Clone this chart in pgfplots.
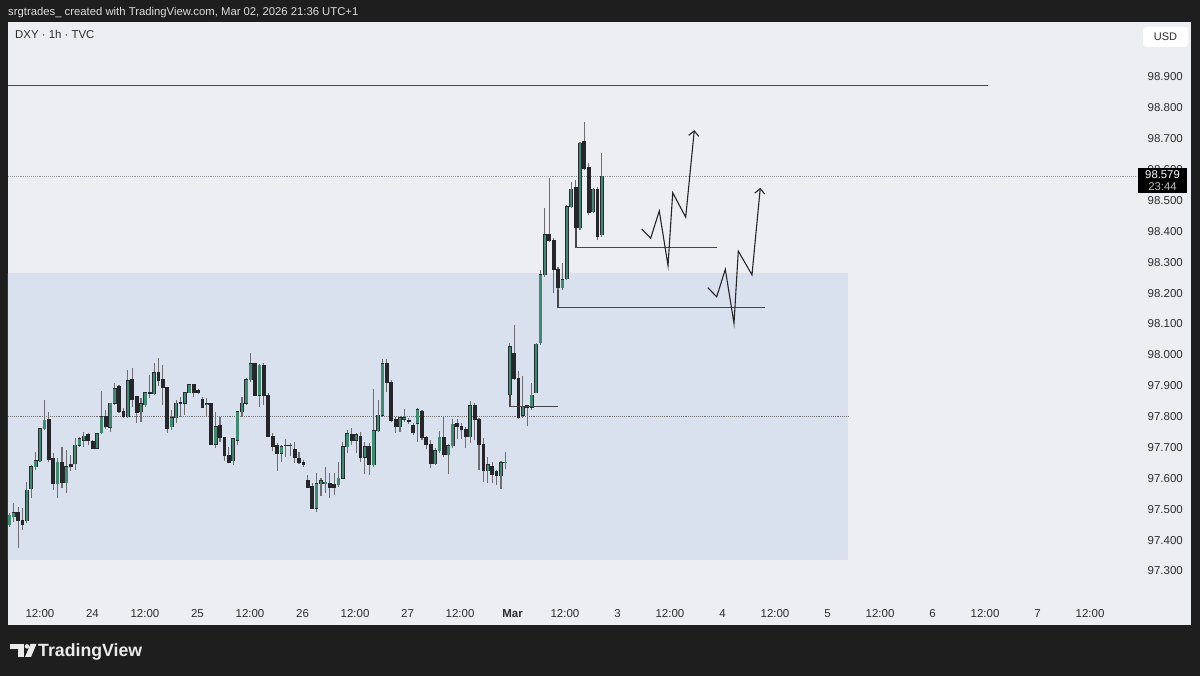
\documentclass[border=0pt]{standalone}
\usepackage{fontspec}
\setmainfont{Liberation Sans}
\usepackage{pgfplots}
\pgfplotsset{compat=1.18}
\usepackage{pgfplotstable}
\usetikzlibrary{arrows.meta}

\definecolor{frame}{RGB}{30,30,30}
\definecolor{panel}{RGB}{237,238,241}
\definecolor{zone}{RGB}{217,224,238}
\definecolor{upc}{RGB}{63,138,112}
\definecolor{downc}{RGB}{38,38,42}
\definecolor{edge}{RGB}{42,44,50}
\definecolor{wick}{RGB}{110,110,114}
\definecolor{lbl}{RGB}{45,45,48}
\definecolor{drw}{RGB}{70,70,72}
\definecolor{hdr}{RGB}{222,222,222}

% bar index, open, high, low, close  (rising bars)
\pgfplotstableread{
i o h l c
0 97.449 97.488 97.442 97.481
1 97.475 97.520 97.459 97.488
4 97.462 97.588 97.455 97.562
5 97.566 97.644 97.536 97.637
6 97.637 97.686 97.627 97.657
7 97.657 97.763 97.653 97.760
8 97.760 97.854 97.757 97.789
11 97.582 97.666 97.536 97.653
13 97.585 97.692 97.553 97.637
15 97.647 97.731 97.627 97.708
16 97.708 97.734 97.702 97.728
17 97.724 97.750 97.702 97.737
20 97.698 97.747 97.698 97.744
21 97.747 97.883 97.744 97.799
23 97.765 97.844 97.750 97.844
24 97.844 97.909 97.838 97.890
27 97.799 97.951 97.796 97.916
30 97.815 97.860 97.783 97.841
31 97.838 97.880 97.831 97.877
33 97.874 97.974 97.870 97.942
37 97.767 97.822 97.757 97.796
38 97.796 97.854 97.779 97.844
40 97.844 97.880 97.805 97.877
41 97.877 97.906 97.877 97.903
45 97.838 97.860 97.799 97.841
47 97.711 97.815 97.698 97.767
51 97.657 97.731 97.644 97.728
52 97.724 97.818 97.708 97.815
53 97.815 97.864 97.799 97.844
54 97.844 97.925 97.838 97.919
55 97.919 98.006 97.912 97.971
57 97.870 97.971 97.831 97.967
62 97.682 97.708 97.653 97.702
70 97.504 97.618 97.491 97.582
71 97.582 97.601 97.543 97.592
72 97.582 97.637 97.553 97.588
75 97.579 97.653 97.572 97.601
76 97.601 97.718 97.598 97.702
77 97.702 97.757 97.682 97.744
79 97.724 97.747 97.682 97.741
81 97.669 97.718 97.614 97.702
83 97.644 97.890 97.637 97.754
84 97.754 97.854 97.750 97.805
85 97.805 97.987 97.799 97.971
89 97.767 97.799 97.750 97.796
90 97.792 97.825 97.783 97.796
93 97.779 97.828 97.718 97.822
97 97.647 97.698 97.644 97.689
98 97.689 97.754 97.682 97.734
100 97.676 97.711 97.614 97.705
101 97.705 97.792 97.698 97.776
105 97.734 97.851 97.715 97.835
109 97.624 97.669 97.585 97.644
112 97.608 97.657 97.566 97.650
113 97.650 97.686 97.630 97.653
114 97.873 98.039 97.864 98.026
117 97.805 97.932 97.796 97.831
119 97.831 97.909 97.822 97.870
120 97.877 98.039 97.877 98.035
121 98.039 98.275 98.032 98.259
122 98.259 98.476 98.253 98.389
126 98.217 98.298 98.210 98.243
127 98.246 98.486 98.243 98.479
128 98.479 98.560 98.476 98.537
130 98.411 98.690 98.405 98.686
133 98.463 98.541 98.460 98.537
135 98.389 98.654 98.382 98.579
}\upbars

% falling bars
\pgfplotstableread{
i o h l c
2 97.488 97.507 97.374 97.465
3 97.462 97.504 97.433 97.452
9 97.792 97.815 97.653 97.660
10 97.663 97.682 97.562 97.582
12 97.653 97.702 97.569 97.585
14 97.644 97.676 97.624 97.637
18 97.741 97.747 97.708 97.724
19 97.721 97.724 97.695 97.698
22 97.799 97.822 97.760 97.767
25 97.896 97.903 97.812 97.815
26 97.815 97.828 97.796 97.799
28 97.919 97.958 97.831 97.857
29 97.864 97.864 97.779 97.812
32 97.877 97.935 97.860 97.874
34 97.942 97.990 97.899 97.916
35 97.919 97.967 97.838 97.893
36 97.893 97.896 97.747 97.763
39 97.847 97.864 97.799 97.844
42 97.903 97.906 97.864 97.877
43 97.883 97.890 97.873 97.877
44 97.857 97.864 97.828 97.831
46 97.841 97.844 97.708 97.711
48 97.770 97.799 97.718 97.731
49 97.731 97.734 97.657 97.673
50 97.673 97.702 97.650 97.653
56 97.971 97.974 97.867 97.870
58 97.967 97.974 97.838 97.870
59 97.870 97.877 97.734 97.737
60 97.737 97.747 97.689 97.702
61 97.708 97.715 97.624 97.682
63 97.708 97.728 97.669 97.705
64 97.706 97.715 97.673 97.705
65 97.695 97.718 97.650 97.666
66 97.663 97.686 97.647 97.653
67 97.653 97.660 97.637 97.644
68 97.592 97.611 97.572 97.572
69 97.575 97.585 97.501 97.504
73 97.585 97.618 97.536 97.572
74 97.579 97.618 97.546 97.569
78 97.741 97.763 97.708 97.724
80 97.737 97.750 97.653 97.666
82 97.702 97.715 97.611 97.644
86 97.971 97.987 97.880 97.912
87 97.912 97.919 97.783 97.789
88 97.792 97.799 97.747 97.767
91 97.789 97.796 97.776 97.783
92 97.770 97.779 97.741 97.750
94 97.818 97.822 97.724 97.731
95 97.734 97.737 97.695 97.711
96 97.711 97.724 97.634 97.647
99 97.734 97.799 97.669 97.676
102 97.779 97.792 97.728 97.767
103 97.767 97.779 97.728 97.757
104 97.757 97.767 97.698 97.734
106 97.835 97.844 97.724 97.792
107 97.792 97.796 97.627 97.711
108 97.711 97.731 97.588 97.624
110 97.640 97.653 97.585 97.614
111 97.621 97.627 97.579 97.608
115 98.006 98.097 97.919 97.925
116 97.925 97.948 97.792 97.796
118 97.835 97.835 97.770 97.828
123 98.389 98.573 98.366 98.372
124 98.372 98.379 98.200 98.278
125 98.278 98.285 98.210 98.217
129 98.541 98.567 98.405 98.411
131 98.690 98.754 98.599 98.602
132 98.606 98.622 98.453 98.460
134 98.537 98.544 98.372 98.382
}\downbars

\pgfplotsset{
  wickplot/.style={forget plot, draw=none, mark=none,
    error bars/.cd, y dir=plus, y explicit, error mark=none,
    error bar style={draw=wick, line width=1.1pt}},
  bodyplot/.style 2 args={forget plot, draw=none, mark=none,
    error bars/.cd, y dir=plus, y explicit, error mark=none,
    error bar style={draw=#1, line width=#2, line cap=butt}},
}

\begin{document}
\begin{tikzpicture}
\useasboundingbox (0,0) rectangle (1200pt,676pt);
\fill[frame] (0,0) rectangle (1200pt,676pt);
\fill[panel] (8pt,51pt) rectangle (1191pt,654pt);

\begin{axis}[
  at={(8pt,76pt)}, anchor=south west,
  width=1129pt, height=578pt, scale only axis,
  xmin=-0.296, xmax=256.88, ymin=97.2061, ymax=99.0781,
  axis line style={draw=none}, tick style={draw=none},
  major tick length=0pt,
  xtick={6.99,18.95,30.91,42.87,54.83,66.79,78.75,90.71,102.67,114.63,126.58,138.54,150.50,162.46,174.42,186.38,198.34,210.30,222.26,234.22,246.18},
  xticklabels={12:00,24,12:00,25,12:00,26,12:00,27,12:00,\textbf{Mar},12:00,3,12:00,4,12:00,5,12:00,6,12:00,7,12:00},
  ytick={97.3,97.4,97.5,97.6,97.7,97.8,97.9,98.0,98.1,98.2,98.3,98.4,98.5,98.6,98.7,98.8,98.9},
  yticklabels={97.300,97.400,97.500,97.600,97.700,97.800,97.900,98.000,98.100,98.200,98.300,98.400,98.500,98.600,98.700,98.800,98.900},
  yticklabel pos=right,
  /pgf/number format/assume math mode=true,
  ticklabel style={font=\fontsize{11.5}{13}\selectfont, text=lbl, inner sep=0pt},
  yticklabel style={anchor=east, xshift=46pt},
  xticklabel style={anchor=base, yshift=-18pt},
]
% demand zone
\addplot[fill=zone, draw=none, forget plot] coordinates {(-2,97.336) (191.05,97.336) (191.05,98.265) (-2,98.265)} -- cycle;
% zone midline
\addplot[densely dotted, color=black!55, line width=0.9pt, forget plot] coordinates {(-2,97.802) (191.05,97.802)};
% last price line
\addplot[densely dotted, color=black!40, line width=0.9pt, forget plot] coordinates {(-2,98.579) (260,98.579)};
% top horizontal level
\addplot[color=drw, line width=1.1pt, forget plot] coordinates {(-2,98.871) (222.94,98.871)};

% candles
\addplot[wickplot] table[x=i, y=l, y error expr=\thisrow{h}-\thisrow{l}] {\upbars};
\addplot[wickplot] table[x=i, y=l, y error expr=\thisrow{h}-\thisrow{l}] {\downbars};
\addplot[bodyplot={edge}{3.8pt}] table[x=i, y expr={min(\thisrow{o},\thisrow{c})-0.0016}, y error expr={abs(\thisrow{c}-\thisrow{o})+0.0032}] {\upbars};
\addplot[bodyplot={upc}{2.5pt}] table[x=i, y expr={min(\thisrow{o},\thisrow{c})}, y error expr={max(abs(\thisrow{c}-\thisrow{o}),0.001)}] {\upbars};
\addplot[bodyplot={downc}{3.8pt}] table[x=i, y expr={min(\thisrow{o},\thisrow{c})-0.0016}, y error expr={abs(\thisrow{c}-\thisrow{o})+0.0032}] {\downbars};

% drawn levels
\addplot[color=drw, line width=1.3pt, forget plot] coordinates {(114.05,97.873) (114.05,97.833) (125.0,97.833)};
\addplot[color=drw, line width=1.3pt, forget plot] coordinates {(125.0,98.210) (125.0,98.153) (172.14,98.153)};
\addplot[color=drw, line width=1.3pt, forget plot] coordinates {(129.09,98.411) (129.09,98.348) (161.14,98.348)};
% projected paths
\addplot[color=black!85, line width=1.1pt, forget plot, -{Straight Barb[length=5pt,width=10pt]}] coordinates {(144.05,98.408) (146.10,98.378) (148.06,98.466) (150.05,98.289) (151.12,98.525) (154.08,98.446) (156.04,98.728)};
\addplot[color=black!85, line width=1.1pt, forget plot, -{Straight Barb[length=5pt,width=10pt]}] coordinates {(159.09,98.218) (161.14,98.188) (163.10,98.277) (165.08,98.102) (166.06,98.336) (169.18,98.259) (171.07,98.541)};
\end{axis}

% header
\node[anchor=base west, inner sep=0pt, text=hdr, font=\fontsize{11.3}{13}\selectfont] at (8pt,660pt) {srgtrades\_ created with TradingView.com, Mar 02, 2026 21:36 UTC+1};
\node[anchor=base west, inner sep=0pt, text=lbl, font=\fontsize{11.4}{13}\selectfont] at (15pt,637pt) {DXY · 1h · TVC};
% currency box
\fill[white, rounded corners=3pt] (1143pt,629pt) rectangle (1188pt,649pt);
\node[inner sep=0pt, text=lbl, font=\fontsize{11}{13}\selectfont] at (1165.5pt,639pt) {USD};
% price tag
\fill[black] (1138pt,483pt) rectangle (1187pt,508pt);
\node[inner sep=0pt, text=white, font=\fontsize{11.3}{13}\selectfont] at (1162.5pt,501pt) {98.579};
\node[inner sep=0pt, text=white!75!black, font=\fontsize{11.3}{13}\selectfont] at (1162.5pt,489pt) {23:44};
% logo
\fill[white!92!black] (10pt,27pt) rectangle (24pt,32pt);
\fill[white!92!black] (17.5pt,19pt) rectangle (24pt,32pt);
\fill[white!92!black] (27pt,29.6pt) circle (2.3pt);
\fill[white!92!black] (30.5pt,32pt) -- (36.5pt,32pt) -- (31pt,19pt) -- (25pt,19pt) -- cycle;
\node[anchor=base west, inner sep=0pt, text=white!92!black, font=\bfseries\fontsize{17.7}{20}\selectfont] at (38pt,19.3pt) {TradingView};
\end{tikzpicture}
\end{document}
